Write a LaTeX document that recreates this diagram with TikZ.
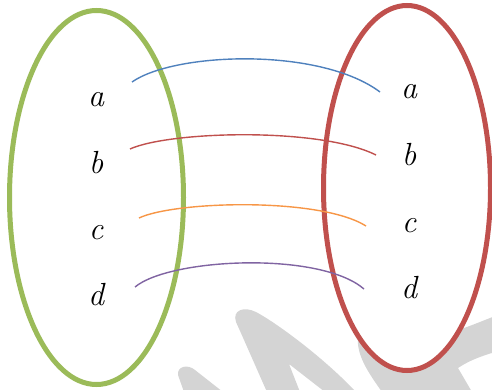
\documentclass[tikz,border=0pt]{standalone}
\usepackage{fontspec}
\definecolor{setgreen}{HTML}{9BBB59}
\definecolor{setred}{HTML}{C0504D}
\definecolor{mapblue}{HTML}{4F81BD}
\definecolor{mapred}{HTML}{C0504D}
\definecolor{maporange}{HTML}{F79646}
\definecolor{mappurple}{HTML}{8064A2}
\definecolor{wmgrey}{HTML}{D4D4D4}
\begin{document}
\begin{tikzpicture}[x=1pt,y=-1pt,
  setring/.style={line width=5pt,fill=white},
  elem/.style={anchor=base,inner sep=0pt,font=\fontsize{32}{32}\selectfont\itshape},
  maparc/.style={line width=1.4pt},
  wm/.style={fill=wmgrey,draw=none}]
\useasboundingbox (0,0) rectangle (492,390);
% watermark
\fill[wm] (236,322) .. controls (232,310) and (244,306) .. (256,312)
  .. controls (275,322) and (322,356) .. (356,392) -- (325,392)
  -- (289,364) -- (300,392) -- (267,392)
  .. controls (255,365) and (245,342) .. cycle;
\fill[wm] (178,375) .. controls (177,366) and (188,364) .. (195,370)
  -- (223,392) -- (184,392) -- cycle;
\fill[wm] (358,336) .. controls (356,355) and (368,372) .. (382,392)
  -- (472,392) -- (458,368) .. controls (470,360) and (482,356) .. (495,352)
  -- (495,316) .. controls (470,326) and (455,332) .. (440,335) -- cycle;
% sets
\filldraw[setring,draw=setgreen] (96.5,197.5) ellipse [x radius=87, y radius=187];
\filldraw[setring,draw=setred] (407,188) ellipse [x radius=83.5, y radius=182.5];
% elements
\node[elem] (a1) at (96,107) {a};
\node[elem] (b1) at (96,174) {b};
\node[elem] (c1) at (96,239) {c};
\node[elem] (d1) at (96,305) {d};
\node[elem] (a2) at (409,99) {a};
\node[elem] (b2) at (409,166) {b};
\node[elem] (c2) at (409,232) {c};
\node[elem] (d2) at (409,298) {d};
% arc ends
\coordinate (sa) at (132,82);  \coordinate (ea) at (380,92);
\coordinate (sb) at (130,149); \coordinate (eb) at (376,155);
\coordinate (sc) at (139,218); \coordinate (ec) at (366,226);
\coordinate (sd) at (135,287); \coordinate (ed) at (364,289);
\draw[maparc,mapblue] (sa) .. controls (175,52) and (320,47) .. (ea);
\draw[maparc,mapred] (sb) .. controls (170,131) and (320,127) .. (eb);
\draw[maparc,maporange] (sc) .. controls (175,201) and (320,197) .. (ec);
\draw[maparc,mappurple] (sd) .. controls (170,258) and (320,251) .. (ed);
\end{tikzpicture}
\end{document}
